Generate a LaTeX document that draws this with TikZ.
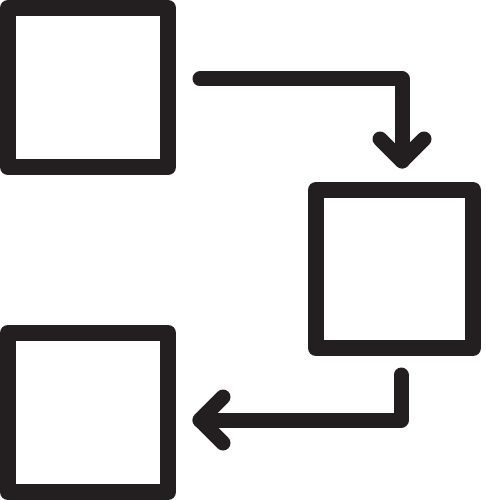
\documentclass[tikz,border=0pt]{standalone}
\definecolor{ink}{HTML}{231F20}
\begin{document}
\begin{tikzpicture}[x=1pt,y=-1pt,
  box/.style={draw=ink, line width=16pt, line join=round, rectangle, inner sep=0pt, outer sep=0pt, minimum width=160pt, minimum height=159pt},
  conn/.style={draw=ink, line width=15pt, line cap=round, line join=round}]
\useasboundingbox (0,0) rectangle (485,500);
\node[box] (b1) at (88,87.5) {};
\node[box, minimum width=157pt, minimum height=158pt] (b2) at (394.5,269) {};
\node[box] (b3) at (88,412.5) {};
% arrow 1
\coordinate (a1s) at (200,79);
\coordinate (a1c) at (402,79);
\coordinate (a1t) at (402,161);
\coordinate (a1l) at (380,139);
\coordinate (a1r) at (424,139);
\draw[conn] (a1s) -- (a1c) -- (a1t);
\draw[conn] (a1l) -- (a1t) -- (a1r);
% arrow 2
\coordinate (a2s) at (401,375);
\coordinate (a2c) at (401,420);
\coordinate (a2t) at (200,420);
\coordinate (a2u) at (223,397);
\coordinate (a2d) at (223,443);
\draw[conn] (a2s) -- (a2c) -- (a2t);
\draw[conn] (a2u) -- (a2t) -- (a2d);
\end{tikzpicture}
\end{document}
